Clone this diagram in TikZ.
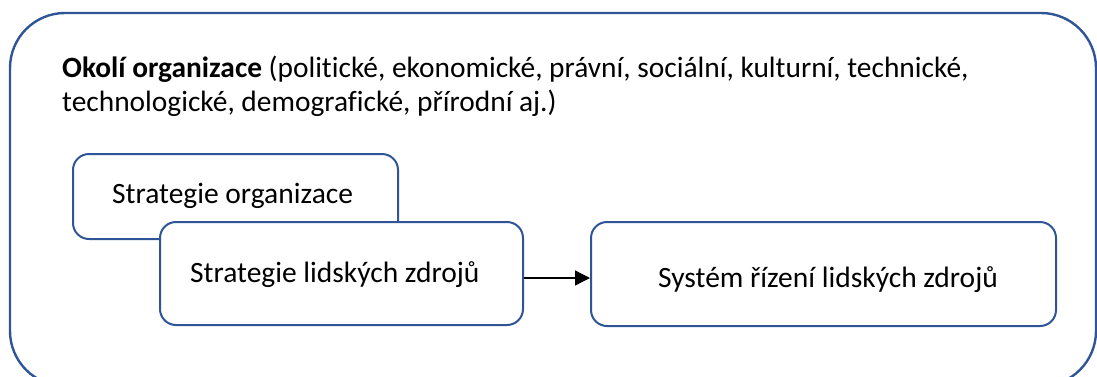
\documentclass[tikz,border=0pt]{standalone}
\usepackage{fontspec}
\setmainfont{Carlito}[Ligatures=NoCommon]
\usetikzlibrary{arrows.meta}
\definecolor{frame}{RGB}{47,85,151}
\tikzset{
  outerbox/.style={draw=frame, line width=2.4pt, rounded corners=55pt},
  innerbox/.style={draw=frame, fill=white, line width=2pt, rounded corners=16pt, inner sep=0pt},
  lbl/.style={anchor=base west, inner sep=0pt, font=\fontsize{29.5}{35}\selectfont},
  toplbl/.style={anchor=base west, inner sep=0pt, font=\fontsize{29.4}{35}\selectfont},
  conn/.style={line width=1.3pt, -{Triangle[length=15pt,width=15pt]}}
}
\begin{document}
\begin{tikzpicture}[x=1pt,y=-1pt]
\useasboundingbox (0,0) rectangle (1097,376);
\draw[outerbox] (10,13) rectangle (1096,386);
\node[toplbl] (t1) at (62,77) {\textbf{Okolí organizace} (politické, ekonomické, právní, sociální, kulturní, technické,};
\node[toplbl] (t2) at (62,111) {technologické, demografické, přírodní aj.)};
\node[innerbox, minimum width=325pt, minimum height=85pt] (b1) at (235.5,196.5) {};
\node[lbl] (l1) at (112,203) {Strategie organizace};
\node[innerbox, minimum width=363pt, minimum height=103pt] (b2) at (341.5,273.5) {};
\node[lbl] (l2) at (190,282) {Strategie lidských zdrojů};
\node[innerbox, minimum width=465pt, minimum height=104pt] (b3) at (823.5,274) {};
\node[lbl] (l3) at (658,287) {Systém řízení lidských zdrojů};
\coordinate (ay) at (0,278);
\draw[conn] (b2.east |- ay) -- (b3.west |- ay);
\end{tikzpicture}
\end{document}
